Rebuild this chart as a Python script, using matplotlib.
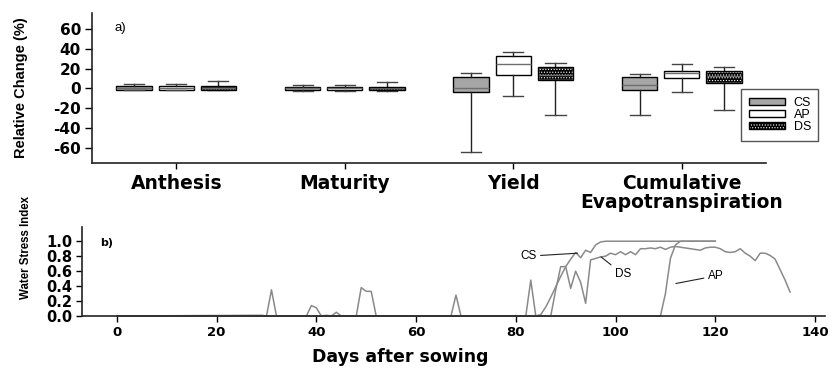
import matplotlib
matplotlib.use('Agg')
import matplotlib.pyplot as plt
from matplotlib.patches import Patch, PathPatch
from matplotlib.legend_handler import HandlerTuple

# ---- panel a) box statistics: [whisker low, q1, median, q3, whisker high]
categories = ['Anthesis', 'Maturity', 'Yield', 'Cumulative\nEvapotranspiration']
cs_box = [[-2, -1.3, 0.3, 3.0, 4.7],
          [-2.5, -2, 0.0, 2.0, 4.0],
          [-64, -3.3, 0.7, 11.4, 15.4],
          [-27, -1.3, 3.7, 11.1, 14.1]]
ap_box = [[-2, -1.3, 0.3, 2.7, 4.7],
          [-2.5, -2, 0.0, 1.7, 3.4],
          [-8, 13.8, 24.9, 32.6, 36.6],
          [-4, 10.8, 15.8, 18.1, 24.9]]
ds_box = [[-2, -1.3, 0.3, 2.7, 7.4],
          [-2.5, -2, 0.0, 2.0, 6.7],
          [-27, 8.8, 14.0, 21.5, 25.9],
          [-22, 6.0, 13.0, 17.4, 21.5]]

# ---- panel b) water stress index by day after sowing
cs_days = [0, 84, 85, 86, 87, 88, 89, 90, 91, 92, 93, 94, 95, 96, 97, 98, 120]
cs_wsi = [0, 0, 0.02, 0.12, 0.25, 0.39, 0.53, 0.66, 0.76, 0.85, 0.78, 0.88,
          0.85, 0.95, 0.99, 1.0, 1.0]
ap_days = [0, 109, 110, 111, 112, 113, 120]
ap_wsi = [0, 0, 0.30, 0.77, 0.95, 1.0, 1.0]
ds_days = [0, 29, 30, 31, 32, 38, 39, 40, 41, 42, 43, 44, 45, 48, 49, 50, 51, 52,
           67, 68, 69, 82, 83, 84, 87, 88, 89, 90, 91, 92, 93, 94, 95, 96, 97,
           98, 99, 100, 101, 102, 103, 104, 105, 106, 107, 108, 109, 110, 111,
           112, 113, 114, 115, 116, 117, 118, 119, 120, 121, 122, 123, 124, 125,
           126, 127, 128, 129, 130, 131, 132, 133, 134, 135]
ds_wsi = [0, 0.01, 0, 0.35, 0, 0, 0.14, 0.11, 0, 0.01, 0, 0.05, 0, 0, 0.38, 0.33,
          0.33, 0, 0, 0.28, 0, 0, 0.48, 0, 0, 0.35, 0.66, 0.66, 0.37, 0.60, 0.45,
          0.17, 0.75, 0.77, 0.79, 0.80, 0.84, 0.82, 0.86, 0.82, 0.86, 0.82, 0.90,
          0.90, 0.91, 0.90, 0.92, 0.89, 0.92, 0.93, 0.92, 0.91, 0.90, 0.89, 0.88,
          0.91, 0.92, 0.92, 0.90, 0.86, 0.85, 0.86, 0.90, 0.84, 0.80, 0.74, 0.84,
          0.84, 0.81, 0.76, 0.62, 0.48, 0.32]

BOLD = dict(family='DejaVu Sans', weight='bold')
ARIAL = 'Liberation Sans'
LINE_GRAY = '#8a8a8a'
DOTS = '......'
plt.rcParams['hatch.linewidth'] = 0.5

fig = plt.figure(figsize=(8.34, 3.71), dpi=100)
ax1 = fig.add_axes([0.1103, 0.5606, 0.8082, 0.4044])
ax2 = fig.add_axes([0.0983, 0.1482, 0.8909, 0.2399])

for ax in (ax1, ax2):
    for side in ('top', 'right'):
        ax.spines[side].set_visible(False)
    for side in ('left', 'bottom'):
        ax.spines[side].set_linewidth(1.2)
        ax.spines[side].set_color('#222222')

# ---- panel a
series = [(cs_box, -0.25, '#a6a6a6'), (ap_box, 0.0, 'white'), (ds_box, 0.25, 'black')]
box_arts = []
for boxes, offset, face in series:
    stats = [dict(whislo=b[0], q1=b[1], med=b[2], q3=b[3], whishi=b[4], fliers=[])
             for b in boxes]
    art = ax1.bxp(stats, positions=[i + offset for i in range(len(categories))],
                  widths=0.21, capwidths=0.12, patch_artist=True,
                  showfliers=False, manage_ticks=False,
                  boxprops=dict(facecolor=face, edgecolor='black', linewidth=1),
                  whiskerprops=dict(color='#222222', linewidth=1),
                  capprops=dict(color='#444444', linewidth=1),
                  medianprops=dict(color='#6e6e6e', linewidth=1))
    box_arts.append(art)

# dotted pattern for DS boxes: white dots on black, black outline on top
for patch in box_arts[2]['boxes']:
    patch.set_edgecolor('white')
    patch.set_hatch(DOTS)
    ax1.add_patch(PathPatch(patch.get_path(), fill=False, edgecolor='black',
                            linewidth=1, zorder=patch.get_zorder() + 0.1))

ax1.set_xlim(-0.5, 3.5)
ax1.set_ylim(-75, 76)
ax1.set_yticks([-60, -40, -20, 0, 20, 40, 60])
ax1.set_yticklabels(['-60', '-40', '-20', '0', '20', '40', '60'], fontsize=11, **BOLD)
ax1.set_xticks(range(len(categories)))
ax1.set_xticklabels(categories, fontsize=13.5, linespacing=1.0, **BOLD)
ax1.tick_params(axis='y', length=5, width=1, pad=3)
ax1.tick_params(axis='x', length=4, width=1, pad=4)
ax1.set_ylabel('Relative Change (%)', family=ARIAL, weight='bold', fontsize=10.5)
ax1.yaxis.set_label_coords(-0.095, 0.5)
ax1.text(0.034, 0.903, 'a)', transform=ax1.transAxes, ha='left', va='center',
         family=ARIAL, fontsize=9.5)

handles = [Patch(facecolor='#a6a6a6', edgecolor='black', linewidth=1),
           Patch(facecolor='white', edgecolor='black', linewidth=1),
           (Patch(facecolor='black', edgecolor='white', hatch=DOTS, linewidth=0),
            Patch(fill=False, edgecolor='black', linewidth=1))]
leg = fig.legend(handles, ['CS', 'AP', 'DS'], loc='upper left',
                 bbox_to_anchor=(0.8885, 0.760), borderaxespad=0,
                 frameon=True, fancybox=False, edgecolor='#555555', framealpha=1,
                 prop=dict(family=ARIAL, size=9),
                 handlelength=2.9, handleheight=0.5, handletextpad=0.7,
                 labelspacing=0.02, borderpad=0.6,
                 handler_map={tuple: HandlerTuple(ndivide=1)})
leg.get_frame().set_linewidth(1)

# ---- panel b
for days, wsi in ((cs_days, cs_wsi), (ap_days, ap_wsi), (ds_days, ds_wsi)):
    ax2.plot(days, wsi, color=LINE_GRAY, linewidth=1.1, clip_on=False)

ax2.set_xlim(-7, 142)
ax2.set_ylim(0, 1.19)
ax2.set_xticks(range(0, 141, 20))
ax2.set_xticklabels([str(v) for v in range(0, 141, 20)], fontsize=9.5, **BOLD)
ax2.set_yticks([0, 0.2, 0.4, 0.6, 0.8, 1.0])
ax2.set_yticklabels(['0.0', '0.2', '0.4', '0.6', '0.8', '1.0'], fontsize=10.5, **BOLD)
ax2.tick_params(axis='both', length=4, width=1, pad=3)
ax2.set_xlabel('Days after sowing', fontsize=12.5, **BOLD)
ax2.xaxis.set_label_coords(0.428, -0.36)
ax2.set_ylabel('Water Stress Index', family=ARIAL, weight='bold', fontsize=8.3)
ax2.yaxis.set_label_coords(-0.067, 0.77)
ax2.text(0.024, 0.82, 'b)', transform=ax2.transAxes, ha='left', va='center',
         fontsize=8, **BOLD)

note = dict(arrowstyle='-', color='#222222', linewidth=0.8, shrinkA=1, shrinkB=0)
ax2.annotate('CS', xy=(92.4, 0.84), xytext=(82.5, 0.80), ha='center', va='center',
             family=ARIAL, fontsize=8.5, arrowprops=note)
ax2.annotate('DS', xy=(97.1, 0.79), xytext=(101.5, 0.556), ha='center', va='center',
             family=ARIAL, fontsize=8.5, arrowprops=note)
ax2.annotate('AP', xy=(112.1, 0.435), xytext=(120.1, 0.537), ha='center', va='center',
             family=ARIAL, fontsize=8.5, arrowprops=note)

fig.savefig('out.png', dpi=100, facecolor='white')
